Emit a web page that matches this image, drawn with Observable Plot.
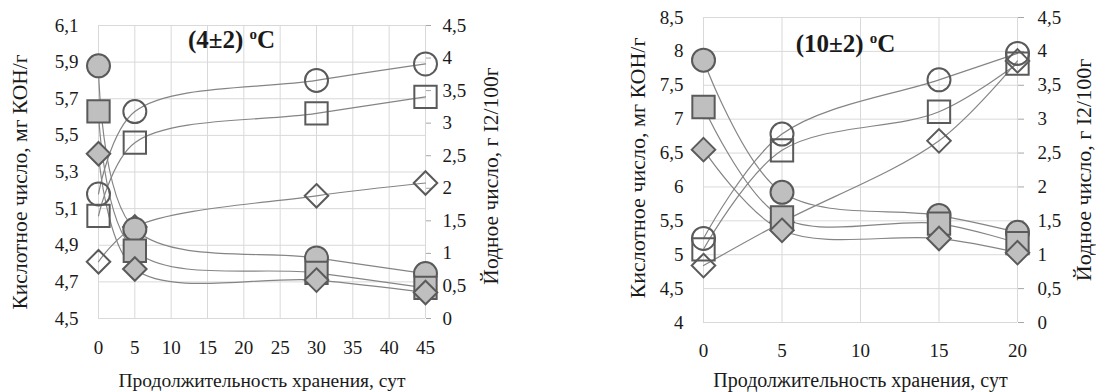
<!DOCTYPE html>
<html><head><meta charset="utf-8">
<script src="https://cdn.jsdelivr.net/npm/d3@7"></script>
<script src="https://cdn.jsdelivr.net/npm/@observablehq/plot@0.6"></script>
<style>
body{margin:0;background:#fff;}
#wrap{position:relative;width:1096px;height:392px;overflow:hidden;}
#wrap > svg{position:absolute;top:0;overflow:visible;}
#wrap svg, #wrap svg text{font-family:"Liberation Serif","Times New Roman",serif !important;}
</style></head><body><div id="wrap"></div>
<script>
// ---- data ----
const days4 = [0, 5, 30, 45];
const days10 = [0, 5, 15, 20];
const xTicks4 = [0, 5, 10, 15, 20, 25, 30, 35, 40, 45];
const xTicks10 = [0, 5, 10, 15, 20];
const yTicks4 = [4.5, 4.7, 4.9, 5.1, 5.3, 5.5, 5.7, 5.9, 6.1];
const yTicks10 = [4, 4.5, 5, 5.5, 6, 6.5, 7, 7.5, 8, 8.5];
const rTicks = [0, 0.5, 1, 1.5, 2, 2.5, 3, 3.5, 4, 4.5];

// Acid number, mg KOH/g (left axis) – open markers
const acid4Circle = [5.18, 5.63, 5.80, 5.89];
const acid4Square = [5.06, 5.46, 5.62, 5.71];
const acid4Diamond = [4.81, 5.00, 5.17, 5.24];
const acid10Circle = [5.24, 6.78, 7.58, 7.97];
const acid10Square = [5.08, 6.54, 7.11, 7.82];
const acid10Diamond = [4.84, 5.48, 6.68, 7.86];
// Iodine number, g I2/100g (right axis) – filled markers
const iod4Circle = [3.88, 1.37, 0.93, 0.69];
const iod4Square = [3.18, 1.04, 0.70, 0.47];
const iod4Diamond = [2.53, 0.76, 0.59, 0.40];
const iod10Circle = [3.87, 1.92, 1.58, 1.33];
const iod10Square = [3.18, 1.55, 1.46, 1.17];
const iod10Diamond = [2.55, 1.36, 1.24, 1.03];

const titles = ["(4±2) ", "(10±2) "];
const yLabel = "Кислотное число, мг КОН/г";
const rLabel = "Йодное число, г I2/100г";
const xLabel = "Продолжительность хранения, сут";

// ---- drawing ----
const FONT = "Liberation Serif";
const fmt = d => String(+(+d).toFixed(2)).replace(".", ",");

function panel(o) {
  const series = [
    {vals: o.acid[0], sym: "circle", filled: false},
    {vals: o.acid[1], sym: "square", filled: false},
    {vals: o.acid[2], sym: "diamond2", filled: false},
    {vals: o.iod[0], sym: "circle", filled: true},
    {vals: o.iod[1], sym: "square", filled: true},
    {vals: o.iod[2], sym: "diamond2", filled: true}
  ];
  const rSym = {circle: 11.5, square: 12.6, diamond2: 10.6};
  const rows = s => o.days.map((d, i) => ({d, v: s.vals[i]}));
  const yOf = s => p => s.filled ? o.toL(p.v) : p.v;
  const lines = series.map(s => Plot.line(rows(s), {
    x: "d", y: yOf(s), curve: "catmull-rom", stroke: "#858585", strokeWidth: 1.2
  }));
  const dots = series.map(s => Plot.dot(rows(s), {
    x: "d", y: yOf(s), symbol: () => s.sym, r: rSym[s.sym],
    fill: s.filled ? "#bfbfbf" : "none", stroke: "#5a5a5a", strokeWidth: 2
  }));
  const plot = Plot.plot({
    width: 548, height: 392,
    marginLeft: o.ml, marginRight: o.mr, marginTop: o.mt, marginBottom: o.mb,
    x: {domain: o.xDomain},
    y: {domain: o.yDomain},
    symbol: {type: "identity"},
    style: {fontFamily: FONT, fontSize: "19px", color: "#1a1a1a", background: "transparent", overflow: "visible"},
    marks: [
      Plot.gridX(o.xTicks, {stroke: "#d9d9d9", strokeOpacity: 1}),
      Plot.gridY(o.yTicks, {stroke: "#d9d9d9", strokeOpacity: 1}),
      Plot.axisX(o.xTicks, {tickSize: 0, tickPadding: o.xPad, tickFormat: fmt, label: null, fontSize: o.tickSize}),
      Plot.axisY(o.yTicks, {anchor: "left", tickSize: 0, tickPadding: 20, tickFormat: fmt, label: null, fontSize: o.tickSize}),
      Plot.axisY(rTicks.map(o.toL), {anchor: "right", tickSize: o.rTick, tickPadding: o.rPad,
        stroke: "#a6a6a6", tickFormat: d => fmt(Math.round(o.fromL(d) * 100) / 100), label: null, fontSize: o.tickSize}),
      Plot.text([yLabel], {frameAnchor: "left", dx: o.yLabDx, dy: o.yLabDy, rotate: -90, textAnchor: "middle", lineAnchor: "middle",
        fontSize: o.yLabSize, text: d => d}),
      Plot.text([rLabel], {frameAnchor: "right", dx: o.rLabDx, dy: o.rLabDy, rotate: -90, textAnchor: "middle", lineAnchor: "middle",
        fontSize: o.yLabSize, text: d => d}),
      Plot.text([xLabel], {frameAnchor: "bottom", dy: o.xLabDy, textAnchor: "middle", lineAnchor: "middle",
        fontSize: o.labSize, text: d => d}),
      ...lines,
      ...dots,
      Plot.text([o.title], {frameAnchor: "top-left", dx: o.tDx, dy: o.tDy, textAnchor: "middle", lineAnchor: "middle",
        fontSize: 25, fontWeight: "bold", text: d => d})
    ]
  });
  // superscript "o" before C in the title
  d3.select(plot).selectAll("text").filter(function() { return this.textContent === o.title; })
    .each(function() {
      const t = d3.select(this);
      t.text(o.title);
      t.append("tspan").attr("dy", -9).attr("font-size", 15).text("o");
      t.append("tspan").attr("dy", 9).text("C");
    });
  plot.style.left = o.left + "px";
  return plot;
}

const wrap = document.getElementById("wrap");
wrap.appendChild(panel({
  left: 0, days: days4, xTicks: xTicks4, yTicks: yTicks4, xDomain: [0, 45], yDomain: [4.5, 6.1],
  toL: v => 4.5 + v * 1.6 / 4.5, fromL: y => (y - 4.5) * 4.5 / 1.6,
  acid: [acid4Circle, acid4Square, acid4Diamond], iod: [iod4Circle, iod4Square, iod4Diamond],
  ml: 98, mr: 123, mt: 25, mb: 74, xPad: 22, rTick: 5, rPad: 12,
  yLabDx: -78, yLabDy: 10, rLabDx: 66, rLabDy: 4, xLabDy: 62, labSize: 19.5, yLabSize: 21.5, tickSize: 19,
  title: titles[0], tDx: 133, tDy: 14
}));
wrap.appendChild(panel({
  left: 548, days: days10, xTicks: xTicks10, yTicks: yTicks10, xDomain: [0, 20], yDomain: [4, 8.5],
  toL: v => 4 + v, fromL: y => y - 4,
  acid: [acid10Circle, acid10Square, acid10Diamond], iod: [iod10Circle, iod10Square, iod10Diamond],
  ml: 155, mr: 79, mt: 17, mb: 70, xPad: 21, rTick: 6, rPad: 14,
  yLabDx: -66, yLabDy: -2, rLabDx: 66, rLabDy: 0, xLabDy: 58, labSize: 20, yLabSize: 22, tickSize: 19,
  title: titles[1], tDx: 142, tDy: 26
}));
</script></body></html>
